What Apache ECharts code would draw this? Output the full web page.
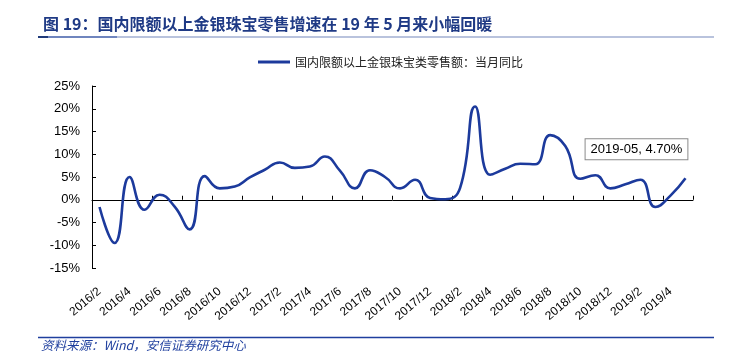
<!DOCTYPE html>
<html>
<head>
<meta charset="utf-8">
<script src="https://cdn.jsdelivr.net/npm/echarts@6/dist/echarts.min.js"></script>
<style>html,body{margin:0;padding:0;background:#fff;}#c{width:735px;height:361px;}</style>
</head>
<body>
<div id="c"></div>
<script>
var categories = ['2016/2','2016/3','2016/4','2016/5','2016/6','2016/7','2016/8','2016/9','2016/10','2016/11','2016/12',
  '2017/1','2017/2','2017/3','2017/4','2017/5','2017/6','2017/7','2017/8','2017/9','2017/10','2017/11','2017/12',
  '2018/1','2018/2','2018/3','2018/4','2018/5','2018/6','2018/7','2018/8','2018/9','2018/10','2018/11','2018/12',
  '2019/1','2019/2','2019/3','2019/4','2019/5'];
var yoyValues = [-1.6,-9.5,5.0,-2.2,1.1,-1.5,-6.5,5.2,2.5,2.9,4.9,
  6.6,8.2,7.0,7.3,9.5,6.4,2.5,6.5,5.0,2.5,4.4,0.4,
  0.1,2.6,20.5,5.5,6.8,7.9,7.8,14.2,11.8,4.6,5.4,2.5,
  3.4,4.4,-1.6,0.9,4.7];
var yTicks = {min: -15, max: 25, interval: 5};
var seriesName = '国内限额以上金银珠宝类零售额：当月同比';
var titleText = '图 19：国内限额以上金银珠宝零售增速在 19 年 5 月来小幅回暖';
var sourceText = '资料来源：Wind，安信证券研究中心';
var calloutText = '2019-05, 4.70%';

var latin = '"Liberation Sans", Arial, "Noto Sans CJK SC", sans-serif';
var chart = echarts.init(document.getElementById('c'));
var lastIdx = categories.length - 1;
chart.setOption({
  animation: false,
  backgroundColor: '#fff',
  title: {
    text: titleText,
    left: 38, top: 11,
    textStyle: {fontFamily: '"Noto Sans CJK SC", sans-serif', fontWeight: 'bold', fontSize: 16, color: '#1F3A85'}
  },
  legend: {
    data: [{name: seriesName, icon: 'rect'}],
    left: 253, top: 51,
    itemWidth: 32, itemHeight: 3, itemGap: 5,
    textStyle: {fontFamily: '"Noto Sans CJK SC", sans-serif', fontSize: 12, color: '#222'}
  },
  grid: {left: 92, right: 42, top: 86, bottom: 93, containLabel: false},
  xAxis: [{
    type: 'category', data: categories, position: 'bottom', boundaryGap: true,
    axisLine: {show: false, onZero: false},
    axisTick: {show: false},
    axisLabel: {interval: 1, rotate: 40, margin: 22, fontSize: 12, fontFamily: latin, color: '#000'}
  }, {
    type: 'category', data: categories, position: 'bottom', boundaryGap: true,
    axisLine: {show: true, onZero: true, lineStyle: {color: '#000', width: 1}},
    axisTick: {show: true, inside: true, length: 4, interval: 1, lineStyle: {color: '#000'}},
    axisLabel: {show: false}
  }],
  yAxis: {
    type: 'value', min: yTicks.min, max: yTicks.max, interval: yTicks.interval,
    axisLine: {show: true, onZero: false, lineStyle: {color: '#000', width: 1}},
    axisTick: {show: true, inside: true, length: 4, lineStyle: {color: '#000'}},
    splitLine: {show: false},
    axisLabel: {formatter: '{value}%', fontSize: 13, fontFamily: latin, color: '#000', margin: 12}
  },
  series: [{
    name: seriesName, type: 'line', data: yoyValues, xAxisIndex: 0,
    smooth: 0.5, symbol: 'none', showSymbol: false,
    lineStyle: {color: '#1C3A9C', width: 2.6},
    itemStyle: {color: '#1C3A9C'},
    markPoint: {
      symbol: 'circle', symbolSize: 1,
      itemStyle: {color: 'rgba(0,0,0,0)'},
      label: {
        show: true, formatter: calloutText, offset: [-49, -29],
        fontSize: 13, fontFamily: latin, color: '#000',
        backgroundColor: '#fff', borderColor: '#8a8a8a', borderWidth: 1,
        padding: [4, 5, 3, 5]
      },
      data: [{coord: [categories[lastIdx], yoyValues[lastIdx]]}]
    }
  }],
  graphic: [
    {type: 'line', shape: {x1: 39, y1: 37, x2: 714, y2: 37}, style: {stroke: '#B9C3DD', lineWidth: 2}},
    {type: 'line', shape: {x1: 48, y1: 37, x2: 117, y2: 37}, style: {stroke: '#6F85BE', lineWidth: 2}},
    {type: 'line', shape: {x1: 38, y1: 37, x2: 48, y2: 37}, style: {stroke: '#1F3A7A', lineWidth: 2}},
    {type: 'line', shape: {x1: 38, y1: 337.5, x2: 714, y2: 337.5}, style: {stroke: '#1F3F9E', lineWidth: 1.5}},
    {type: 'text', left: 41, top: 339, style: {text: sourceText, fontSize: 12.5, fontStyle: 'italic',
      fontFamily: '"Noto Sans CJK SC", "Liberation Sans", sans-serif', fill: '#1F3F9E'}}
  ]
});
</script>
</body>
</html>
